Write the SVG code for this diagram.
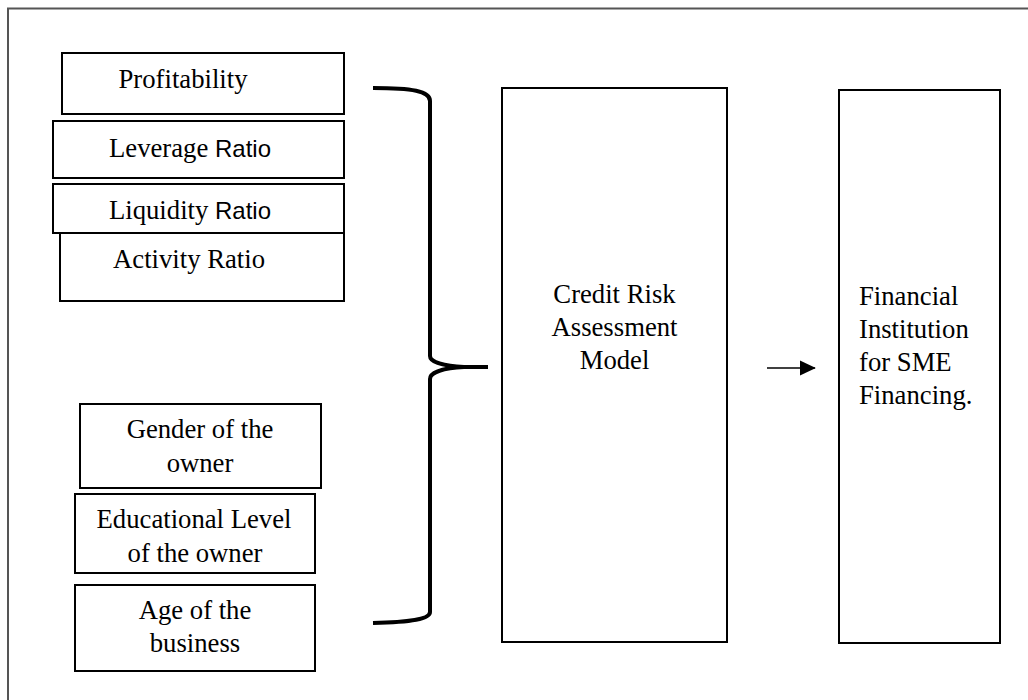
<svg xmlns="http://www.w3.org/2000/svg" width="1028" height="700" viewBox="0 0 1028 700">
<defs>
<style>
.box{fill:#fff;stroke:#000;stroke-width:2}
.t{font-family:"Liberation Serif","Times New Roman",serif;font-size:26.7px;fill:#000}
.c{text-anchor:middle}
.s{font-family:"Liberation Sans",Arial,sans-serif;font-size:24px}
.conn{fill:none;stroke:#000}
</style>
<marker id="ah" markerWidth="11" markerHeight="10" refX="9" refY="4.5" orient="auto" markerUnits="strokeWidth">
<path d="M0,0 L9.5,4.5 L0,9 Z" fill="#000"/>
</marker>
</defs>
<rect width="1028" height="700" fill="#fff"/>
<rect id="frame" x="8" y="8.5" width="1040" height="720" fill="none" stroke="#555" stroke-width="2"/>

<g id="n-profitability">
<rect class="box" x="62" y="53" width="282" height="61"/>
<text class="t c" x="183" y="88">Profitability</text>
</g>
<g id="n-leverage">
<rect class="box" x="53" y="121" width="291" height="57"/>
<text class="t c" x="190" y="157">Leverage <tspan class="s">Ratio</tspan></text>
</g>
<g id="n-activity">
<rect class="box" x="60" y="233" width="284" height="68"/>
<text class="t c" x="189" y="268">Activity Ratio</text>
</g>
<g id="n-liquidity">
<rect class="box" x="53" y="184" width="291" height="49"/>
<text class="t c" x="190" y="219">Liquidity <tspan class="s">Ratio</tspan></text>
</g>
<g id="n-gender">
<rect class="box" x="80" y="404" width="241" height="84"/>
<text class="t c" x="200" y="438">Gender of the</text>
<text class="t c" x="200" y="472">owner</text>
</g>
<g id="n-education">
<rect class="box" x="75" y="494" width="240" height="79"/>
<text class="t c" x="194" y="528">Educational Level</text>
<text class="t c" x="195" y="562">of the owner</text>
</g>
<g id="n-age">
<rect class="box" x="75" y="585" width="240" height="86"/>
<text class="t c" x="195" y="619">Age of the</text>
<text class="t c" x="195" y="652">business</text>
</g>
<g id="n-credit">
<rect class="box" x="502" y="88" width="225" height="554"/>
<text class="t c" x="614.5" y="303">Credit Risk</text>
<text class="t c" x="614.5" y="336">Assessment</text>
<text class="t c" x="614.5" y="369">Model</text>
</g>
<g id="n-financial">
<rect class="box" x="839" y="90" width="161" height="553"/>
<text class="t" x="859" y="305">Financial</text>
<text class="t" x="859" y="338">Institution</text>
<text class="t" x="859" y="371">for SME</text>
<text class="t" x="859" y="404">Financing.</text>
</g>

<g id="connectors">
<path class="conn" stroke-width="4" d="M373,88 C412,88 430,91 430,101 L430,356 C430,362 444,366 464,367 L488,367 M464,367 C444,368 430,372 430,379 L430,612 C430,619 412,622 373,623"/>
<line class="conn" x1="767" y1="368" x2="815" y2="368" stroke-width="1.7" marker-end="url(#ah)"/>
</g>
</svg>
